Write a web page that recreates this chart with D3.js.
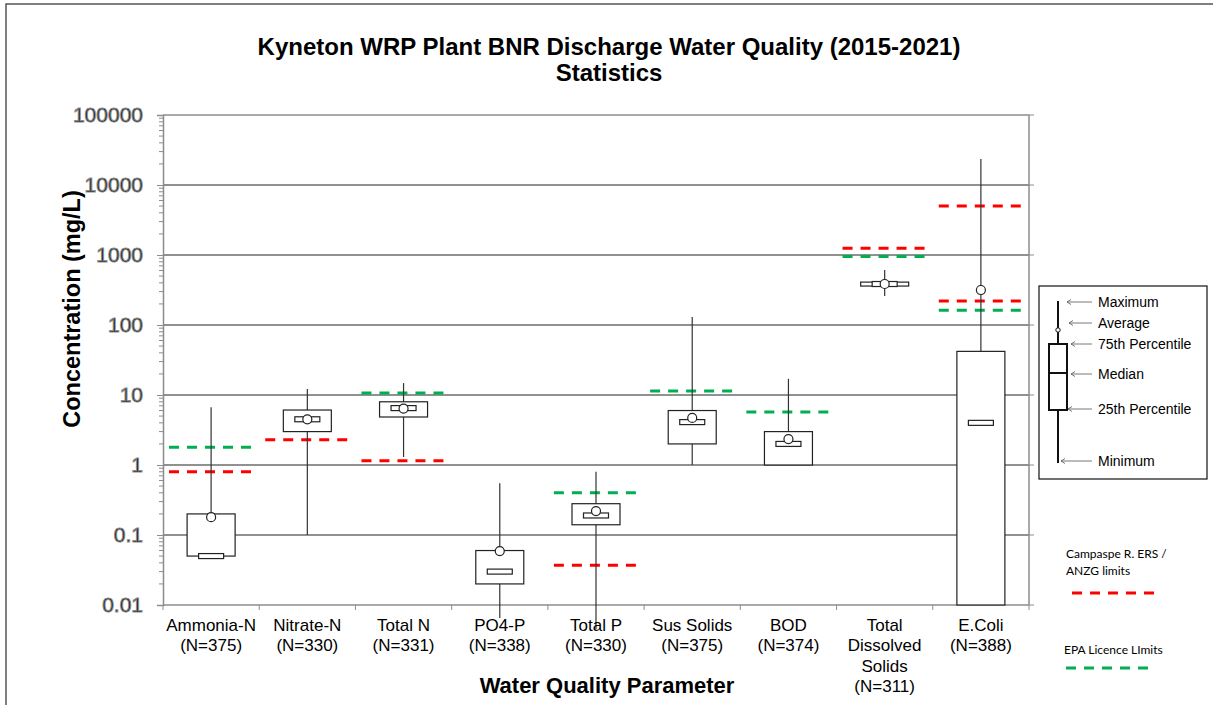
<!DOCTYPE html>
<html>
<head>
	<meta charset="utf-8">
	<script src="https://d3js.org/d3.v7.min.js"></script>
	<style>
		body { margin: 0; background: #fff; }
		text { font-family: "Liberation Sans", Arial, sans-serif; fill: #000; }
		.grid { stroke: #222; stroke-width: 1; }
		.frame { stroke: #8c8c8c; stroke-width: 1.5; fill: none; }
		.tick { stroke: #8c8c8c; stroke-width: 1; }
		.whisker { stroke: #333; stroke-width: 1.2; }
		.box { fill: #fff; stroke: #222; stroke-width: 1.2; }
		.lim { stroke-width: 3; stroke-dasharray: 10,8; fill: none; }
		.note { font-family: Lato, "Open Sans", sans-serif; font-size: 12px; }
	</style>
</head>
<body>
<script>

	// categories and sample sizes
	var categories = ["Ammonia-N", "Nitrate-N", "Total N", "PO4-P", "Total P", "Sus Solids", "BOD", "Total Dissolved Solids", "E.Coli"];
	var labelLines = [["Ammonia-N"], ["Nitrate-N"], ["Total N"], ["PO4-P"], ["Total P"], ["Sus Solids"], ["BOD"], ["Total", "Dissolved", "Solids"], ["E.Coli"]];
	var sampleN = [375, 330, 331, 338, 330, 375, 374, 311, 388];

	// box plot statistics (mg/L)
	var minVals = [0.05, 0.1, 1.3, 0.0065, 0.0045, 1.0, 1.0, 260, 0.01];
	var q1Vals = [0.05, 3.0, 4.85, 0.02, 0.14, 2.0, 1.0, 360, 0.01];
	var medianVals = [0.05, 4.5, 6.5, 0.03, 0.19, 4.1, 2.0, 385, 4.0];
	var q3Vals = [0.2, 6.1, 8.0, 0.06, 0.28, 6.0, 3.0, 410, 42];
	var maxVals = [6.7, 12.2, 14.8, 0.55, 0.8, 130, 17, 610, 23500];
	var meanVals = [0.18, 4.5, 6.4, 0.059, 0.22, 4.7, 2.35, 385, 316];

	// limits
	var ersLimits = [[0.8], [2.3], [1.15], [], [0.037], [], [], [1250], [5000, 220]];
	var epaLimits = [[1.8], [], [10.7], [], [0.4], [11.4], [5.7], [950], [163]];

	var yTicks = [0.01, 0.1, 1, 10, 100, 1000, 10000, 100000];
	var legendLabels = ["Maximum", "Average", "75th Percentile", "Median", "25th Percentile", "Minimum"];

	drawChart();

	function drawChart() {
		var width = 1213, height = 705;
		var left = 163, right = 1029, plotTop = 115, bottom = 605;

		var svg = d3.select("body").append("svg")
			.attr("width", width)
			.attr("height", height);

		// outer frame
		svg.append("rect")
			.attr("x", 6).attr("y", 4)
			.attr("width", width + 20).attr("height", height + 20)
			.attr("fill", "none").attr("stroke", "#555").attr("stroke-width", 1.5);

		var x = d3.scaleBand().domain(categories).range([left, right]);
		var y = d3.scaleLog().domain([0.01, 100000]).range([bottom, plotTop]);

		// minor ticks
		var minor = [];
		yTicks.slice(0, -1).forEach(function(t) {
			for (var k = 2; k <= 9; k++) minor.push(t * k);
		});
		svg.selectAll(".minor").data(minor).enter().append("line")
			.attr("class", "tick")
			.attr("x1", left - 4).attr("x2", left)
			.attr("y1", function(d) { return y(d); })
			.attr("y2", function(d) { return y(d); });

		// gridlines
		svg.selectAll(".grid").data(yTicks.slice(1, -1)).enter().append("line")
			.attr("class", "grid")
			.attr("x1", left).attr("x2", right)
			.attr("y1", function(d) { return y(d); })
			.attr("y2", function(d) { return y(d); });

		// left axis
		var yAxis = d3.axisLeft(y).tickValues(yTicks).tickFormat(function(d) { return String(d); }).tickSize(6).tickPadding(14);
		var ya = svg.append("g").attr("transform", "translate(" + left + ",0)").call(yAxis);
		ya.select(".domain").attr("stroke", "#8c8c8c").attr("stroke-width", 1.5);
		ya.selectAll(".tick line").attr("stroke", "#8c8c8c");
		ya.selectAll(".tick text").style("font-size", "21px").attr("fill", "#000");

		// right frame ticks
		svg.selectAll(".rtick").data(yTicks).enter().append("line")
			.attr("class", "tick")
			.attr("x1", right).attr("x2", right + 5)
			.attr("y1", function(d) { return y(d); })
			.attr("y2", function(d) { return y(d); });

		svg.append("line").attr("class", "frame").attr("x1", left).attr("x2", right).attr("y1", plotTop).attr("y2", plotTop);
		svg.append("line").attr("class", "frame").attr("x1", right).attr("x2", right).attr("y1", plotTop).attr("y2", bottom);

		// bottom axis
		var bounds = categories.map(function(c) { return x(c); }).concat([right]);
		svg.selectAll(".xtick").data(bounds).enter().append("line")
			.attr("class", "tick")
			.attr("x1", function(d) { return d; }).attr("x2", function(d) { return d; })
			.attr("y1", bottom).attr("y2", bottom + 5);
		svg.append("line").attr("class", "frame").attr("x1", left).attr("x2", right).attr("y1", bottom).attr("y2", bottom);

		// limit lines
		function limitLines(list, colour) {
			list.forEach(function(vals, i) {
				vals.forEach(function(v) {
					svg.append("line")
						.attr("class", "lim")
						.attr("stroke", colour)
						.attr("x1", x(categories[i]) + 6)
						.attr("x2", x(categories[i]) + 90)
						.attr("y1", y(v)).attr("y2", y(v));
				});
			});
		}
		limitLines(ersLimits, "#ff0000");
		limitLines(epaLimits, "#00b050");

		// boxes
		var bw = 48, mw = 25;
		categories.forEach(function(c, i) {
			var cx = x(c) + x.bandwidth() / 2;
			var g = svg.append("g");
			g.append("line").attr("class", "whisker")
				.attr("x1", cx).attr("x2", cx)
				.attr("y1", y(minVals[i])).attr("y2", y(maxVals[i]));
			g.append("rect").attr("class", "box")
				.attr("x", cx - bw / 2).attr("width", bw)
				.attr("y", y(q3Vals[i]))
				.attr("height", Math.max(1, y(q1Vals[i]) - y(q3Vals[i])));
			g.append("rect").attr("class", "box")
				.attr("x", cx - mw / 2).attr("width", mw)
				.attr("y", y(medianVals[i]) - 2.5).attr("height", 5);
			g.append("circle").attr("class", "box")
				.attr("cx", cx).attr("cy", y(meanVals[i])).attr("r", 4.5);
		});

		// category labels
		categories.forEach(function(c, i) {
			var cx = x(c) + x.bandwidth() / 2;
			var lines = labelLines[i].concat(["(N=" + sampleN[i] + ")"]);
			var t = svg.append("text").attr("text-anchor", "middle").style("font-size", "17px");
			lines.forEach(function(l, j) {
				t.append("tspan").attr("x", cx).attr("y", 631 + j * 20.3).text(l);
			});
		});

		// titles
		svg.append("text").attr("x", 609).attr("y", 55).attr("text-anchor", "middle")
			.style("font-size", "24px").style("font-weight", "bold")
			.text("Kyneton WRP Plant BNR Discharge Water Quality (2015-2021)");
		svg.append("text").attr("x", 609).attr("y", 81).attr("text-anchor", "middle")
			.style("font-size", "24px").style("font-weight", "bold")
			.text("Statistics");
		svg.append("text").attr("x", 607).attr("y", 693).attr("text-anchor", "middle")
			.style("font-size", "22px").style("font-weight", "bold")
			.text("Water Quality Parameter");
		svg.append("text")
			.attr("transform", "translate(80,309) rotate(-90)")
			.attr("text-anchor", "middle")
			.style("font-size", "23.5px").style("font-weight", "bold")
			.text("Concentration (mg/L)");

		// box plot key
		var lg = svg.append("g").attr("transform", "translate(1039,286)");
		lg.append("rect").attr("width", 168).attr("height", 193)
			.attr("fill", "#fff").attr("stroke", "#111").attr("stroke-width", 1.2);
		lg.append("line").attr("x1", 19).attr("x2", 19).attr("y1", 15).attr("y2", 177)
			.attr("stroke", "#111").attr("stroke-width", 2);
		lg.append("rect").attr("x", 10).attr("y", 58).attr("width", 18).attr("height", 66)
			.attr("fill", "#fff").attr("stroke", "#111").attr("stroke-width", 2);
		lg.append("line").attr("x1", 10).attr("x2", 28).attr("y1", 87).attr("y2", 87)
			.attr("stroke", "#111").attr("stroke-width", 2);
		lg.append("circle").attr("cx", 19).attr("cy", 44).attr("r", 2.2)
			.attr("fill", "#fff").attr("stroke", "#111").attr("stroke-width", 1);
		var keyY = [16, 37, 58, 88, 123, 175];
		var keyX = [28, 30, 32, 32, 29, 22];
		legendLabels.forEach(function(l, i) {
			var yy = keyY[i];
			lg.append("line").attr("x1", keyX[i]).attr("x2", 53).attr("y1", yy).attr("y2", yy)
				.attr("stroke", "#555").attr("stroke-width", 0.8);
			lg.append("path")
				.attr("d", "M" + (keyX[i] + 4) + "," + (yy - 2.5) + "L" + keyX[i] + "," + yy + "L" + (keyX[i] + 4) + "," + (yy + 2.5))
				.attr("fill", "none").attr("stroke", "#555").attr("stroke-width", 0.8);
			lg.append("text").attr("x", 59).attr("y", yy + 5).style("font-size", "14px").text(l);
		});

		// limit key
		svg.append("text").attr("class", "note").attr("x", 1066).attr("y", 558).text("Campaspe R. ERS /");
		svg.append("text").attr("class", "note").attr("x", 1066).attr("y", 575).text("ANZG limits");
		svg.append("line").attr("class", "lim").attr("stroke", "#ff0000")
			.attr("x1", 1072).attr("x2", 1156).attr("y1", 593).attr("y2", 593);
		svg.append("text").attr("class", "note").attr("x", 1064).attr("y", 654).text("EPA Licence LImits");
		svg.append("line").attr("class", "lim").attr("stroke", "#00b050")
			.attr("x1", 1066).attr("x2", 1150).attr("y1", 668).attr("y2", 668);
	}

</script>
</body>
</html>
